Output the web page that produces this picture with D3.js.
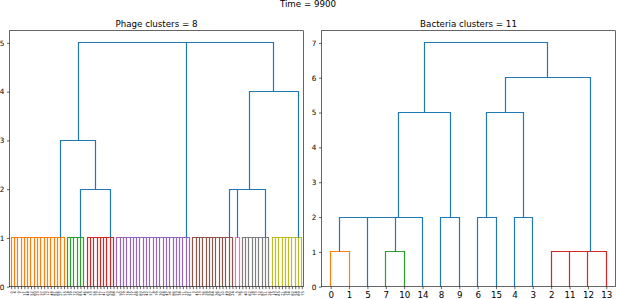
<!DOCTYPE html>
<html>
<head>
<meta charset="utf-8">
<script src="https://cdn.jsdelivr.net/npm/d3@7"></script>
<style>
  body { margin: 0; background: #fff; }
  svg { display: block; font-family: "DejaVu Sans", sans-serif; }
</style>
</head>
<body>
<div id="chart"></div>
<script>
// Phage leaf labels, left to right, one list per flat cluster (merged at height 1)
const phageOrange = [0, 4, 9, 1, 31, 44, 52, 60, 23, 37, 70, 12, 48, 81, 66, 27, 55];
const phageGreen = [14, 39, 72, 20, 85, 46];
const phageRed = [6, 33, 58, 17, 77, 41, 63, 29, 88];
const phagePurple = [2, 50, 19, 74, 35, 11, 68, 83, 25, 42, 57, 8, 79, 30, 64, 47, 16, 86, 53, 38, 71, 22, 61];
const phageBrown = [3, 45, 13, 76, 28, 59, 84, 36, 67, 10, 49, 80, 24];
const phagePink = [5, 56];
const phageGray = [7, 40, 62, 18, 73, 32, 87, 51, 26];
const phageYellow = [15, 43, 65, 21, 78, 34, 82, 54, 69, 75];

// trees: [merge height, child, child, ...] ; children merged one after another at that height
const phageTree = [5,
  [3, [1, ...phageOrange], [2, [1, ...phageGreen], [1, ...phageRed]]],
  [1, ...phagePurple],
  [4, [2, [1, ...phageBrown], [1, ...phagePink], [1, ...phageGray]], [1, ...phageYellow]]
];

const bacteriaTree = [7,
  [5, [2, [1, 0, 1], 5, [1, 7, 10], 14], [2, 8, 9]],
  [6, [5, [2, 6, 15], [2, 4, 3]], [1, 2, 11, 12, 13]]
];

const phageYTicks = [0, 1, 2, 3, 4, 5];
const bacteriaYTicks = [0, 1, 2, 3, 4, 5, 6, 7];

const colorThreshold = 1.5;
const clusterColors = ["#ff7f0e", "#2ca02c", "#d62728", "#9467bd", "#8c564b", "#e377c2", "#7f7f7f", "#bcbd22", "#17becf"];
const aboveColor = "#1f77b4";

const W = 617, H = 299;
const svg = d3.select("#chart").append("svg")
  .attr("width", W)
  .attr("height", H);

svg.append("text")
  .attr("x", 308)
  .attr("y", 7.3)
  .attr("text-anchor", "middle")
  .attr("font-size", 8.7)
  .text("Time = 9900");

// turn a tree into leaf order + link segments
function layout(tree) {
  const leaves = [];
  const links = [];
  let nClusters = 0;
  function walk(node, color) {
    if (typeof node === "number") {
      const i = leaves.length;
      leaves.push(node);
      return { x: 5 + 10 * i, h: 0 };
    }
    const h = node[0];
    let c = color;
    if (!c && h < colorThreshold) c = clusterColors[nClusters++];
    const kids = node.slice(1).map(k => walk(k, c));
    const col = c || aboveColor;
    let cur = kids[0];
    for (let j = 1; j < kids.length; j++) {
      const k = kids[j];
      links.push({ x1: cur.x, h1: cur.h, x2: k.x, h2: k.h, h: h, color: col });
      cur = { x: (cur.x + k.x) / 2, h: h };
    }
    return cur;
  }
  walk(tree, null);
  return { leaves, links, maxH: tree[0] };
}

// snap to pixel centres so overlapping links don't darken
const snap = v => Math.round(v - 0.5) + 0.5;

function drawDendrogram(tree, box, title, yTicks, leafFont, rotate) {
  const { leaves, links, maxH } = layout(tree);

  const x = d3.scaleLinear()
    .domain([0, leaves.length * 10])
    .range([box.left, box.right]);
  const y = d3.scaleLinear()
    .domain([0, maxH * 1.05])
    .range([box.bottom, box.top]);

  const g = svg.append("g");

  g.append("g")
    .selectAll("path")
    .data(links)
    .enter()
    .append("path")
    .attr("d", d => `M${snap(x(d.x1))},${snap(y(d.h1))}V${snap(y(d.h))}H${snap(x(d.x2))}V${snap(y(d.h2))}`)
    .attr("fill", "none")
    .attr("stroke", d => d.color)
    .attr("stroke-width", 1.2);

  // y axis
  const yAxis = d3.axisLeft(y)
    .tickValues(yTicks)
    .tickFormat(d3.format("d"))
    .tickSize(2.5)
    .tickPadding(2.5)
    .tickSizeOuter(0);
  const ya = g.append("g")
    .attr("transform", `translate(${box.left},0)`)
    .call(yAxis);
  ya.select(".domain").remove();
  ya.selectAll("line").attr("stroke", "#000").attr("stroke-width", 0.6);
  ya.selectAll("text").attr("font-size", 7.3).attr("fill", "#000").attr("font-family", "DejaVu Sans");

  // x axis with leaf labels
  const xAxis = d3.axisBottom(x)
    .tickValues(leaves.map((d, i) => 5 + 10 * i))
    .tickFormat((d, i) => String(leaves[i]))
    .tickSize(2.5)
    .tickPadding(2.5)
    .tickSizeOuter(0);
  const xa = g.append("g")
    .attr("transform", `translate(0,${box.bottom})`)
    .call(xAxis);
  xa.select(".domain").remove();
  xa.selectAll("line").attr("stroke", "#000").attr("stroke-width", 0.6);
  const xt = xa.selectAll("text")
    .attr("font-size", leafFont)
    .attr("fill", "#000")
    .attr("font-family", "DejaVu Sans");
  if (rotate) {
    xt.attr("transform", "rotate(-90)")
      .attr("x", -4.5)
      .attr("y", 0)
      .attr("dy", "0.35em")
      .attr("text-anchor", "end");
  }

  // frame
  g.append("rect")
    .attr("x", box.left)
    .attr("y", box.top)
    .attr("width", box.right - box.left)
    .attr("height", box.bottom - box.top)
    .attr("fill", "none")
    .attr("stroke", "#000")
    .attr("stroke-width", 0.6);

  g.append("text")
    .attr("x", (box.left + box.right) / 2)
    .attr("y", box.top - 3.9)
    .attr("text-anchor", "middle")
    .attr("font-size", 8.7)
    .text(title);
}

drawDendrogram(phageTree, { left: 9.5, right: 303.5, top: 30.7, bottom: 286.7 },
  "Phage clusters = 8", phageYTicks, 3.6, true);
drawDendrogram(bacteriaTree, { left: 321.5, right: 615.5, top: 30.7, bottom: 286.7 },
  "Bacteria clusters = 11", bacteriaYTicks, 8.7, false);
</script>
</body>
</html>
